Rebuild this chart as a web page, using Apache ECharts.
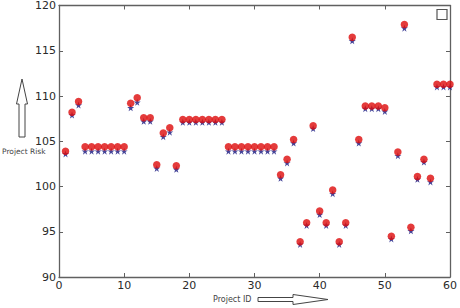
<!DOCTYPE html>
<html>
<head>
<meta charset="utf-8">
<script src="https://cdn.jsdelivr.net/npm/echarts@6/dist/echarts.min.js"></script>
<style>
html,body{margin:0;padding:0;background:#fff;}
#chart{width:460px;height:308px;}
</style>
</head>
<body>
<div id="chart"></div>
<script>
// Project IDs 1..60
const projectIds = [];
for (let i = 1; i <= 60; i++) projectIds.push(i);

// Red circles (project risk)
const riskValues = [
  103.9, 108.2, 109.4, 104.4, 104.4, 104.4, 104.4, 104.4, 104.4, 104.4,
  109.2, 109.8, 107.6, 107.6, 102.4, 105.9, 106.5, 102.3, 107.4, 107.4,
  107.4, 107.4, 107.4, 107.4, 107.4, 104.4, 104.4, 104.4, 104.4, 104.4,
  104.4, 104.4, 104.4, 101.3, 103.0, 105.2, 93.9, 96.0, 106.7, 97.3,
  96.0, 99.6, 93.9, 96.0, 116.5, 105.2, 108.9, 108.9, 108.9, 108.7,
  94.5, 103.8, 117.9, 95.5, 101.1, 103.0, 100.9, 111.3, 111.3, 111.3
];

// Blue stars (slightly lower)
const starValues = [
  103.6, 107.9, 109.0, 103.9, 103.9, 103.9, 103.9, 103.9, 103.9, 103.9,
  108.7, 109.3, 107.2, 107.2, 102.0, 105.5, 106.0, 101.9, 107.1, 107.1,
  107.1, 107.1, 107.1, 107.1, 107.1, 103.9, 103.9, 103.9, 103.9, 103.9,
  103.9, 103.9, 103.9, 100.9, 102.6, 104.8, 93.6, 95.7, 106.4, 96.9,
  95.7, 99.2, 93.6, 95.7, 116.1, 104.8, 108.6, 108.6, 108.6, 108.3,
  94.2, 103.4, 117.5, 95.1, 100.8, 102.7, 100.5, 111.0, 111.0, 111.0
];

const xTicks = { min: 0, max: 60, interval: 10 };
const yTicks = { min: 90, max: 120, interval: 5 };

const chart = echarts.init(document.getElementById('chart'), null, { renderer: 'svg' });

const axisColor = '#606060';
const labelStyle = { color: '#2a2a2a', fontFamily: 'DejaVu Sans', fontSize: 11 };

function xAx(pos, showLabel) {
  return {
    type: 'value', position: pos, min: xTicks.min, max: xTicks.max, interval: xTicks.interval,
    axisLine: { show: true, onZero: false, lineStyle: { color: axisColor, width: 1.3 } },
    axisTick: { show: true, inside: true, length: 4, lineStyle: { color: axisColor } },
    axisLabel: Object.assign({ show: showLabel, margin: 3 }, labelStyle),
    splitLine: { show: false }
  };
}
function yAx(pos, showLabel) {
  return {
    type: 'value', position: pos, min: yTicks.min, max: yTicks.max, interval: yTicks.interval,
    axisLine: { show: true, onZero: false, lineStyle: { color: axisColor, width: 1.3 } },
    axisTick: { show: true, inside: true, length: 4, lineStyle: { color: axisColor } },
    axisLabel: Object.assign({ show: showLabel, margin: 3 }, labelStyle),
    splitLine: { show: false }
  };
}

const starPath = 'path://M50,0 L61,35 L98,35 L68,57 L79,91 L50,70 L21,91 L32,57 L2,35 L39,35 Z';

chart.setOption({
  animation: false,
  backgroundColor: '#fff',
  grid: { left: 59, right: 7, top: 5, bottom: 31 },
  xAxis: [xAx('bottom', true), xAx('top', false)],
  yAxis: [yAx('left', true), yAx('right', false)],
  series: [
    {
      type: 'scatter', xAxisIndex: 0, yAxisIndex: 0,
      symbol: starPath, symbolSize: [7, 7],
      itemStyle: { color: '#17177f' },
      data: projectIds.map((id, i) => [id, starValues[i]]),
      clip: true
    },
    {
      type: 'scatter', xAxisIndex: 0, yAxisIndex: 0,
      symbol: 'circle', symbolSize: 7.5,
      itemStyle: { color: '#dd0a0a' },
      data: projectIds.map((id, i) => [id, riskValues[i]]),
      clip: true
    }
  ],
  graphic: [
    { type: 'rect', shape: { x: 437, y: 9.5, width: 10, height: 10 },
      style: { fill: '#fff', stroke: '#555', lineWidth: 1.2 } },
    { type: 'polygon', shape: { points: [[19,137],[25,137],[25,104],[27.5,104],[22,79],[16.5,104],[19,104]] },
      style: { fill: '#fff', stroke: '#444', lineWidth: 1 } },
    { type: 'text', left: 2, top: 147.5,
      style: { text: 'Project Risk', fill: '#444', font: '7.5px "DejaVu Sans"' } },
    { type: 'polygon', shape: { points: [[258,297.5],[293,297.5],[293,294.5],[328,299.5],[293,304.5],[293,301.5],[258,301.5]] },
      style: { fill: '#fff', stroke: '#444', lineWidth: 1 } },
    { type: 'text', left: 213, top: 295,
      style: { text: 'Project ID', fill: '#444', font: '8px "DejaVu Sans"' } }
  ]
});
</script>
</body>
</html>
